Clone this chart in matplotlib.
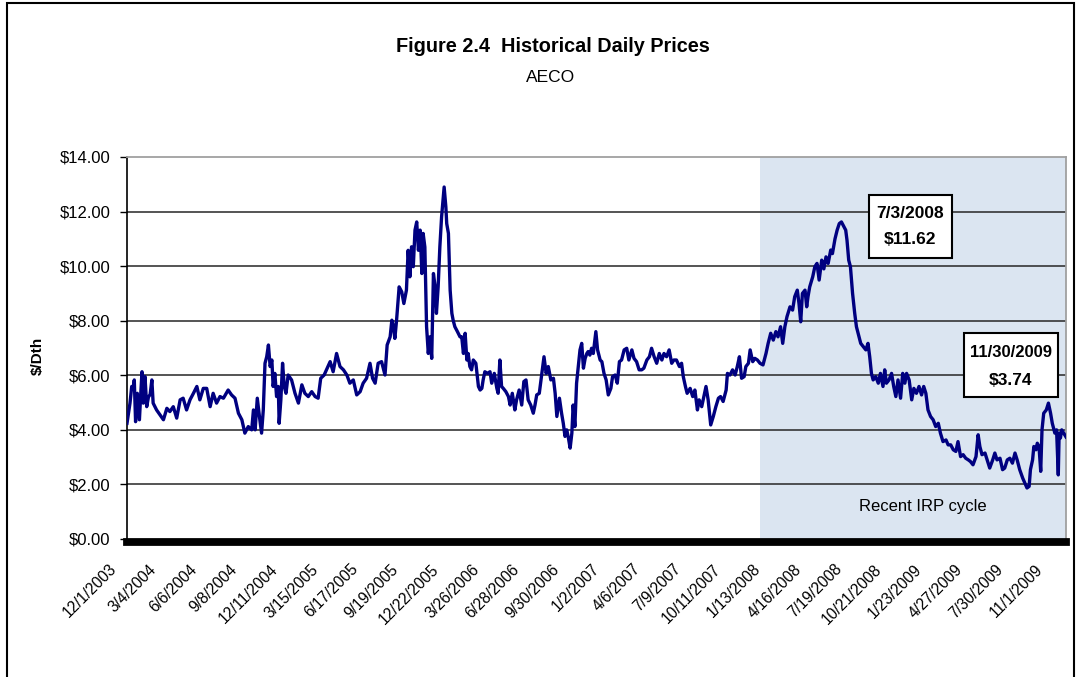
import numpy as np
import pandas as pd
import matplotlib
matplotlib.use('Agg')
from matplotlib import pyplot as plt
from matplotlib.patches import Rectangle
from matplotlib.transforms import ScaledTranslation

plt.rcParams['font.family'] = ['Liberation Sans', 'DejaVu Sans']

# AECO daily price (days after 12/1/2003, $/Dth)
start = '2003-12-01'
days = [0, 7, 11, 15, 17, 20, 24, 29, 32, 35,
        38, 42, 46, 50, 54, 58, 61, 69, 77, 85,
        93, 100, 108, 116, 124, 131, 139, 147, 155, 163,
        170, 178, 186, 194, 201, 209, 217, 225, 236, 244,
        252, 260, 268, 275, 283, 291, 295, 299, 304, 309,
        314, 318, 322, 326, 330, 334, 338, 341, 345, 349,
        353, 355, 359, 363, 367, 371, 376, 384, 392, 400,
        408, 415, 423, 431, 439, 446, 452, 460, 467, 474,
        481, 489, 497, 505, 513, 520, 528, 536, 544, 551,
        559, 567, 573, 579, 586, 594, 602, 607, 614, 618,
        621, 625, 629, 635, 641, 646, 652, 656, 660, 664,
        668, 672, 676, 680, 684, 688, 691, 695, 699, 703,
        707, 711, 715, 719, 722, 726, 730,
        734, 738, 740, 744, 746, 750, 754, 758, 761, 765,
        771, 777, 781, 785, 789, 793, 796, 800, 804, 808,
        814, 820, 824, 828, 831, 835, 841, 847, 851, 857,
        863, 866, 870, 874, 878, 884, 890, 894, 899, 905,
        909, 915, 921, 926, 931, 936, 942, 948, 952, 956,
        962, 968, 973, 978, 983, 989, 995, 999, 1003, 1009,
        1014, 1018, 1022, 1026, 1030, 1034, 1038, 1041, 1045, 1049,
        1053, 1057, 1061, 1065, 1069, 1073, 1076, 1080, 1084, 1088,
        1094, 1098, 1104, 1108, 1113, 1118, 1123, 1129, 1133, 1139,
        1144, 1149, 1154, 1160, 1166, 1171, 1178, 1183, 1189, 1195,
        1201, 1206, 1213, 1219, 1224, 1230, 1236, 1242, 1248, 1253,
        1259, 1265, 1271, 1276, 1282, 1289, 1294, 1298, 1303, 1307,
        1314, 1320, 1325, 1331, 1335, 1341, 1346, 1351, 1356, 1362,
        1368, 1374, 1380, 1385, 1391, 1398, 1401, 1407, 1413, 1419,
        1424, 1429, 1434, 1440, 1444, 1450, 1454, 1460, 1465, 1471, 1477,
        1484, 1491, 1496, 1502, 1508, 1514, 1519, 1525, 1530, 1535,
        1540, 1547, 1553, 1558, 1564, 1568, 1572, 1576, 1582, 1586,
        1589, 1593, 1600, 1605, 1610, 1615, 1621, 1626, 1631, 1636,
        1642, 1646, 1652, 1657, 1662, 1667, 1673, 1677, 1680, 1684,
        1688, 1693, 1698, 1702, 1706, 1712, 1718, 1724, 1729, 1733,
        1737, 1741, 1747, 1753, 1758, 1764, 1768, 1772, 1778, 1784,
        1789, 1794, 1799, 1805, 1810, 1815, 1819, 1825, 1831, 1836,
        1842, 1848, 1854, 1859, 1864, 1869, 1875, 1881, 1887, 1893,
        1898, 1904, 1911, 1916, 1922, 1928, 1934, 1939, 1945, 1951,
        1957, 1963, 1968, 1974, 1981, 1986, 1990, 1995, 2002, 2007,
        2013, 2020, 2025, 2030, 2037, 2043, 2048, 2054, 2060, 2066,
        2072, 2077, 2083, 2090, 2095, 2100, 2105, 2108, 2113, 2116,
        2121, 2124, 2128, 2132, 2135, 2139, 2145, 2150, 2155, 2159,
        2165, 2169, 2173, 2175, 2178, 2181, 2191]
prices = [4.24, 4.98, 5.59, 5.60, 5.83, 4.30, 5.34, 4.37, 5.30, 6.13,
          4.98, 5.95, 4.85, 5.20, 5.30, 5.83, 4.98, 4.73, 4.55, 4.37,
          4.79, 4.67, 4.85, 4.43, 5.10, 5.16, 4.73, 5.10, 5.34, 5.59,
          5.10, 5.52, 5.52, 4.85, 5.34, 4.98, 5.22, 5.16, 5.46, 5.28,
          5.16, 4.61, 4.37, 3.88, 4.12, 4.00, 4.73, 4.00, 5.16, 4.49,
          3.88, 4.73, 6.44, 6.68, 7.11, 6.32, 6.56, 5.59, 6.07, 5.22,
          5.59, 4.24, 5.10, 6.44, 5.59, 5.34, 6.01, 5.83, 5.34, 4.98,
          5.65, 5.34, 5.22, 5.40, 5.22, 5.16, 5.89, 6.01, 6.26, 6.50,
          6.13, 6.80, 6.32, 6.20, 6.01, 5.71, 5.83, 5.28, 5.40, 5.71,
          5.89, 6.44, 5.89, 5.71, 6.44, 6.50, 6.01, 7.11, 7.41, 8.02,
          7.84, 7.35, 8.02, 9.24, 9.06, 8.63, 9.12, 10.58, 9.61, 10.71,
          9.98, 11.32, 11.62, 10.58, 11.32, 9.73, 11.20, 10.70, 7.78, 6.80,
          7.41, 6.62, 9.73, 9.24, 8.27, 9.24, 10.71,
          11.80, 12.54, 12.90, 12.17, 11.56, 11.20, 9.12, 8.27, 8.02, 7.78,
          7.60, 7.41, 7.41, 6.80, 7.54, 6.56, 6.80, 6.32, 6.20, 6.56,
          6.44, 5.59, 5.46, 5.52, 5.83, 6.13, 6.07, 6.13, 5.71, 6.07,
          5.52, 5.34, 6.56, 5.59, 5.52, 5.40, 5.22, 4.91, 5.34, 4.73,
          5.10, 5.46, 4.91, 5.77, 5.83, 5.10, 4.91, 4.61, 4.91, 5.28,
          5.34, 6.07, 6.68, 6.07, 6.32, 5.83, 5.89, 5.34, 4.49, 5.16,
          4.61, 4.24, 3.76, 4.00, 3.70, 3.33, 3.88, 4.91, 4.12, 5.71,
          6.32, 6.93, 7.17, 6.26, 6.62, 6.80, 6.87, 6.74, 6.99, 6.80,
          7.60, 6.93, 6.56, 6.50, 6.07, 5.83, 5.28, 5.52, 5.95, 6.01,
          5.71, 6.50, 6.56, 6.93, 6.99, 6.56, 6.93, 6.62, 6.50, 6.20,
          6.20, 6.26, 6.56, 6.68, 6.99, 6.68, 6.44, 6.80, 6.56, 6.80,
          6.68, 6.93, 6.44, 6.56, 6.56, 6.32, 6.44, 5.95, 5.59, 5.34,
          5.52, 5.22, 5.46, 4.73, 5.10, 4.85, 5.22, 5.59, 5.10, 4.18,
          4.49, 4.85, 5.16, 5.22, 5.04, 5.46, 6.07, 6.01, 6.20, 6.01,
          6.32, 6.68, 5.89, 5.95, 6.32, 6.44, 6.93, 6.50, 6.62, 6.56, 6.44,
          6.38, 6.80, 7.17, 7.54, 7.29, 7.60, 7.41, 7.78, 7.17, 7.78,
          8.15, 8.51, 8.39, 8.88, 9.12, 8.63, 7.96, 9.00, 9.12, 8.51,
          8.88, 9.24, 9.61, 9.98, 10.10, 9.49, 10.22, 9.90, 10.34, 10.10,
          10.59, 10.46, 11.00, 11.32, 11.56, 11.62, 11.44, 11.32, 10.95, 10.22,
          9.98, 9.00, 8.27, 7.78, 7.54, 7.17, 7.05, 6.93, 7.17, 6.68,
          6.07, 5.83, 5.95, 5.71, 6.07, 5.59, 6.20, 5.71, 5.83, 6.07,
          5.59, 5.22, 5.83, 5.16, 6.07, 5.71, 6.07, 5.83, 5.10, 5.52,
          5.34, 5.59, 5.28, 5.59, 5.34, 4.73, 4.49, 4.37, 4.12, 4.24,
          3.88, 3.57, 3.63, 3.45, 3.45, 3.27, 3.21, 3.57, 3.02, 3.09,
          2.96, 2.90, 2.84, 2.72, 3.02, 3.82, 3.39, 3.09, 3.15, 2.90,
          2.60, 2.90, 3.15, 2.90, 2.96, 2.54, 2.60, 2.90, 2.96, 2.78,
          3.15, 2.90, 2.54, 2.23, 2.05, 1.87, 1.93, 2.54, 2.90, 3.39,
          3.27, 3.51, 3.39, 2.48, 4.00, 4.61, 4.73, 4.98, 4.61, 4.24,
          3.88, 4.00, 2.35, 3.88, 3.70, 4.00, 3.74]

shade_from = '2007-12-17'
end = '2009-11-30'
tick_step = 94  # days between axis labels
yticks = [0, 2, 4, 6, 8, 10, 12, 14]

base = pd.Timestamp(start)
dates = base + pd.to_timedelta(days, unit='D')
tick_dates = pd.date_range(start, end, freq='%dD' % tick_step)

fig = plt.figure(figsize=(10.79, 6.77), dpi=100)
ax = fig.add_axes([127/1079, 1 - 539/677, 939/1079, 382/677])

ax.axvspan(pd.Timestamp(shade_from), pd.Timestamp(end), color='#dbe5f1', lw=0, zorder=0)
for v in yticks[1:-1]:
    ax.axhline(v, color='#262626', lw=1.1, zorder=1)
ax.plot(dates, prices, color='#000080', lw=2.4, solid_joinstyle='round', zorder=3)

ax.set_xlim(base, pd.Timestamp(end))
ax.set_ylim(0, 14)
ax.set_yticks(yticks)
ax.set_yticklabels(['$%.2f' % v for v in yticks])
ax.set_xticks(tick_dates)
ax.set_xticklabels(['%d/%d/%d' % (d.month, d.day, d.year) for d in tick_dates])

ax.spines['left'].set_linewidth(1.2)
ax.spines['bottom'].set_linewidth(5.6)
ax.spines['bottom'].set_position(('outward', 2))
ax.spines['bottom'].set_zorder(4)
for s in ['top', 'right']:
    ax.spines[s].set_color('#a0a0a0')
    ax.spines[s].set_linewidth(1.3)

ax.tick_params(axis='y', direction='out', length=5, width=1, labelsize=12, pad=7)
ax.tick_params(axis='x', length=0, labelsize=11.2, pad=18, labelrotation=45)
offset = ScaledTranslation(-0.13, 0, fig.dpi_scale_trans)
for lab in ax.get_xticklabels():
    lab.set_horizontalalignment('right')
    lab.set_verticalalignment('center')
    lab.set_rotation_mode('anchor')
    lab.set_transform(lab.get_transform() + offset)

ax.set_ylabel('$/Dth', fontsize=11, fontweight='bold')
ax.yaxis.set_label_coords(-0.087, 0.48)

# callout boxes
ax.add_patch(Rectangle((0.790, 0.7356), 0.0884, 0.165, transform=ax.transAxes,
                       facecolor='white', edgecolor='black', lw=1.5, zorder=5))
ax.text(0.834, 0.851, '7/3/2008', transform=ax.transAxes, ha='center', va='center',
        fontsize=12.5, fontweight='bold', zorder=6)
ax.text(0.834, 0.783, '$11.62', transform=ax.transAxes, ha='center', va='center',
        fontsize=12.5, fontweight='bold', zorder=6)
ax.add_patch(Rectangle((0.891, 0.372), 0.100, 0.1675, transform=ax.transAxes,
                       facecolor='white', edgecolor='black', lw=1.5, zorder=5))
ax.text(0.941, 0.4895, '11/30/2009', transform=ax.transAxes, ha='center', va='center',
        fontsize=12, fontweight='bold', zorder=6)
ax.text(0.941, 0.416, '$3.74', transform=ax.transAxes, ha='center', va='center',
        fontsize=12.5, fontweight='bold', zorder=6)
ax.text(0.848, 0.084, 'Recent IRP cycle', transform=ax.transAxes, ha='center', va='center',
        fontsize=12, zorder=6)

fig.text(553/1079, 1 - 46/677, 'Figure 2.4  Historical Daily Prices', ha='center', va='center',
         fontsize=14.3, fontweight='bold')
fig.text(551/1079, 1 - 77/677, 'AECO', ha='center', va='center', fontsize=12.5)

fig.add_artist(Rectangle((7/1079, -0.1), 1067/1079, 1.1 - 3/677, transform=fig.transFigure,
                         fill=False, edgecolor='black', lw=1.5))

fig.savefig('out.png', dpi=100)
